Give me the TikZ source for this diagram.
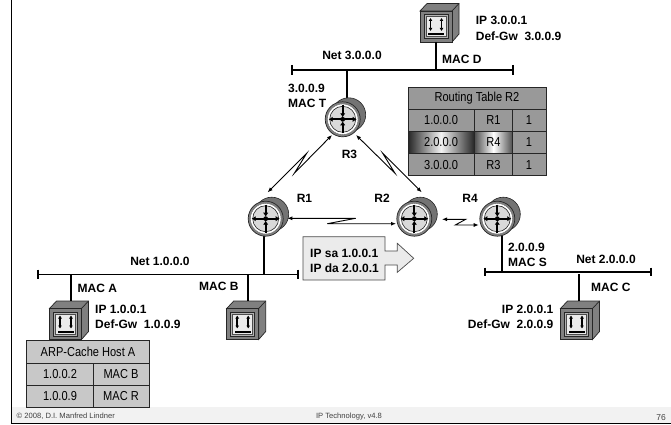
\documentclass[tikz,border=0pt]{standalone}
\usepackage{fontspec}
\setmainfont{Liberation Sans}
\newfontfamily\narrowf[FakeStretch=0.85]{Liberation Sans}
\usetikzlibrary{arrows.meta}
\definecolor{tgray}{HTML}{999999}
\definecolor{agray}{HTML}{C8C8C8}
\tikzset{
 x=1pt,y=-1pt,
 lbl/.style={font=\fontsize{12}{12}\selectfont\bfseries,inner sep=0pt,text=black},
 net/.style={line width=1.6pt,draw=black},
 stub/.style={line width=2pt,draw=black},
 wan/.style={line width=0.9pt,draw=black,{Latex[length=5pt,width=4pt]}-{Latex[length=5pt,width=4pt]}},
 cell/.style={font=\narrowf\fontsize{13}{13}\selectfont,text=black,inner sep=0pt},
}
\newcommand{\hostbox}[3]{% name, x, y (front top-left)
 \begin{scope}[shift={(#2,#3)}]
  \fill[black!50,draw=black!85,line width=.7pt] (0,0)--(7,-7.5)--(39,-7.5)--(39,23)--(32,31)--(32,0)--cycle;
  \draw[black!85,line width=.7pt] (32,0)--(39,-7.5);
  \fill[black!50,draw=black!85,line width=.7pt] (0,0)rectangle(32,31);
  \fill[black!30,draw=black!85,line width=.7pt] (4,3.5)rectangle(28,27.5);
  \fill[black!8,draw=black!70,line width=.5pt] (6,5.5)rectangle(26,25.5);
  \draw[black,line width=1.5pt,{Latex[length=3pt,width=4pt]}-{Latex[length=3pt,width=4pt]}] (10.5,7)--(10.5,20);
  \draw[black,line width=1.5pt,{Latex[length=3pt,width=4pt]}-{Latex[length=3pt,width=4pt]}] (21.5,7)--(21.5,20);
  \fill[black] (8,22)rectangle(24,24);
  \coordinate (#1) at (16,-7.5);
 \end{scope}}
\newcommand{\routerbox}[3]{% name, cx, cy
 \begin{scope}[shift={(#2,#3)}]
  \fill[black!55,draw=black!85,line width=.6pt] (6,-4.5) circle (17);
  \fill[black!50,draw=black!85,line width=.7pt] (0,0) circle (17.5);
  \fill[white,draw=black!60,line width=.4pt] (0,0) circle (15.3);
  \fill[black!15,draw=black!85,line width=.6pt] (0,0) circle (13);
  \draw[black,line width=1.8pt,-{Latex[length=4pt,width=5.5pt]}] (0,0)--(14,0);
  \draw[black,line width=1.8pt,-{Latex[length=4pt,width=5.5pt]}] (0,0)--(-14,0);
  \draw[black,line width=2pt,-{Latex[length=4pt,width=5.5pt]}] (0,-14)--(0,-2);
  \draw[black,line width=2pt,-{Latex[length=4pt,width=5.5pt]}] (0,14)--(0,2);
  \fill[black] (0,0) circle (2.4);
  \coordinate (#1) at (0,0);
 \end{scope}}
\begin{document}
\begin{tikzpicture}
\useasboundingbox (0,0) rectangle (671,425);
\fill[white] (0,0) rectangle (671,425);
% footer
\fill[black!5] (11,407) rectangle (671,422.5);
\draw[black,line width=1pt] (11,0)--(11,423)--(671,423);
\node[font=\fontsize{7.6}{8}\selectfont,anchor=west,inner sep=0pt,text=black!75] (foot1) at (16.5,416.5) {© 2008, D.I. Manfred Lindner};
\node[font=\fontsize{7.6}{8}\selectfont,inner sep=0pt,text=black!75] (foot2) at (349,416.5) {IP Technology, v4.8};
\node[font=\fontsize{8.5}{9}\selectfont,anchor=east,inner sep=0pt,text=black!75] (foot3) at (666,418) {76};
% network lines
\draw[net] (292,70)--(513,70);
\draw[net] (292,65)--(292,75);\draw[net] (513,65)--(513,75);
\draw[net] (38,274.3)--(297.7,274.3);
\draw[net] (38,269.5)--(38,279);\draw[net] (297.7,269.5)--(297.7,279);
\draw[net] (485,271.7)--(651,271.7);
\draw[net] (485,267.5)--(485,276);\draw[net] (651,267.5)--(651,276);
% hosts
\hostbox{hd}{420}{11}
\hostbox{ha}{49.5}{308.5}
\hostbox{hb}{226.7}{308.5}
\hostbox{hc}{560.5}{308.5}
% routers
\draw[stub] (347.3,70)--(347.3,100);
\draw[stub] (264,230)--(264,274.3);
\draw[stub] (501.7,230)--(501.7,271.7);
\routerbox{r3}{342.7}{119.3}
\routerbox{r1}{265.7}{218.7}
\routerbox{r2}{414.3}{218.7}
\routerbox{r4}{497.3}{218.7}
% host stubs
\draw[stub] (435.7,42)--(435.7,70);
\draw[stub] (71.3,274.3)--(71.3,301);
\draw[stub] (248,274.3)--(248,301);
\draw[stub] (579,274.3)--(579,301);
% wan links
\draw[wan] (332,135)--(294.3,173.3)--(306.7,153.3)--(267.7,192.3);
\draw[wan] (356,135)--(395,173.3)--(382.7,153.3)--(421.7,192.3);
\draw[wan] (287.3,218.3)--(355.7,218.3)--(327.3,223.7)--(396,223.7);
\draw[wan] (442,219.3)--(465.7,219.3)--(455.3,225)--(478.7,225);
% packet arrow
\fill[black!8,draw=black!70,line width=.7pt] (303,236.7)--(385,236.7)--(385,251)--(397.3,251)--(397.3,243.3)--(413.7,258.3)--(397.3,272.3)--(397.3,265)--(385,265)--(385,280)--(303,280)--cycle;
\node[lbl,anchor=west] (pk1) at (310,253) {IP sa 1.0.0.1};
\node[lbl,anchor=west] (pk2) at (310,268) {IP da 2.0.0.1};
% routing table
\fill[tgray] (408,87.3) rectangle (546,175.7);
\shade[left color=black!85,right color=black!5] (408,131.3) rectangle (441,153.5);
\shade[left color=black!5,right color=black!85] (441,131.3) rectangle (474.3,153.5);
\shade[left color=black!70,right color=white] (474.3,131.3) rectangle (493.5,153.5);
\shade[left color=white,right color=black!70] (493.5,131.3) rectangle (512.7,153.5);
\draw[black!85,line width=.8pt] (408,87.3) rectangle (546,175.7);
\draw[black!85,line width=.8pt] (408,109.3)--(546,109.3) (408,131.3)--(546,131.3) (408,153.5)--(546,153.5);
\draw[black!85,line width=.8pt] (474.3,109.3)--(474.3,175.7) (512.7,109.3)--(512.7,175.7);
\node[cell] (t0) at (477,98.3) {Routing Table R2};
\node[cell] (t1) at (441,120.3) {1.0.0.0};
\node[cell] (t2) at (493.5,120.3) {R1};
\node[cell] (t3) at (529,120.3) {1};
\node[cell] (t4) at (441,142.4) {2.0.0.0};
\node[cell] (t5) at (493.5,142.4) {R4};
\node[cell] (t6) at (529,142.4) {1};
\node[cell] (t7) at (441,164.6) {3.0.0.0};
\node[cell] (t8) at (493.5,164.6) {R3};
\node[cell] (t9) at (529,164.6) {1};
% ARP table
\fill[agray,draw=black!85,line width=.7pt] (26.7,340.7) rectangle (149,407);
\draw[black!85,line width=.7pt] (26.7,363)--(149,363) (26.7,385.3)--(149,385.3) (93.3,363)--(93.3,407);
\node[cell] (a0) at (88,352) {ARP-Cache Host A};
\node[cell] (a1) at (60,374) {1.0.0.2};
\node[cell] (a2) at (121,374) {MAC B};
\node[cell] (a3) at (60,396) {1.0.0.9};
\node[cell] (a4) at (121,396) {MAC R};
% labels
\node[lbl,anchor=west] (l1) at (475.7,20.5) {IP 3.0.0.1};
\node[lbl,anchor=west] (l2) at (475.7,36) {Def-Gw\ \ 3.0.0.9};
\node[lbl] (l3) at (352,55) {Net 3.0.0.0};
\node[lbl,anchor=west] (l4) at (442,59) {MAC D};
\node[lbl,anchor=west] (l5) at (288,88) {3.0.0.9};
\node[lbl,anchor=west] (l6) at (288,103) {MAC T};
\node[lbl] (l7) at (349.5,154) {R3};
\node[lbl] (l8) at (304.5,198) {R1};
\node[lbl] (l9) at (382,198) {R2};
\node[lbl] (l10) at (470,198) {R4};
\node[lbl] (l11) at (160,261) {Net 1.0.0.0};
\node[lbl,anchor=west] (l12) at (77.5,288) {MAC A};
\node[lbl,anchor=west] (l13) at (199,286) {MAC B};
\node[lbl,anchor=west] (l14) at (95,309) {IP 1.0.0.1};
\node[lbl,anchor=west] (l15) at (95,324) {Def-Gw\ \ 1.0.0.9};
\node[lbl,anchor=west] (l16) at (508,247) {2.0.0.9};
\node[lbl,anchor=west] (l17) at (508,262) {MAC S};
\node[lbl] (l18) at (606,259) {Net 2.0.0.0};
\node[lbl,anchor=west] (l19) at (591,287) {MAC C};
\node[lbl,anchor=east] (l20) at (553.5,309) {IP 2.0.0.1};
\node[lbl,anchor=east] (l21) at (553.5,324) {Def-Gw\ \ 2.0.0.9};
\end{tikzpicture}
\end{document}
